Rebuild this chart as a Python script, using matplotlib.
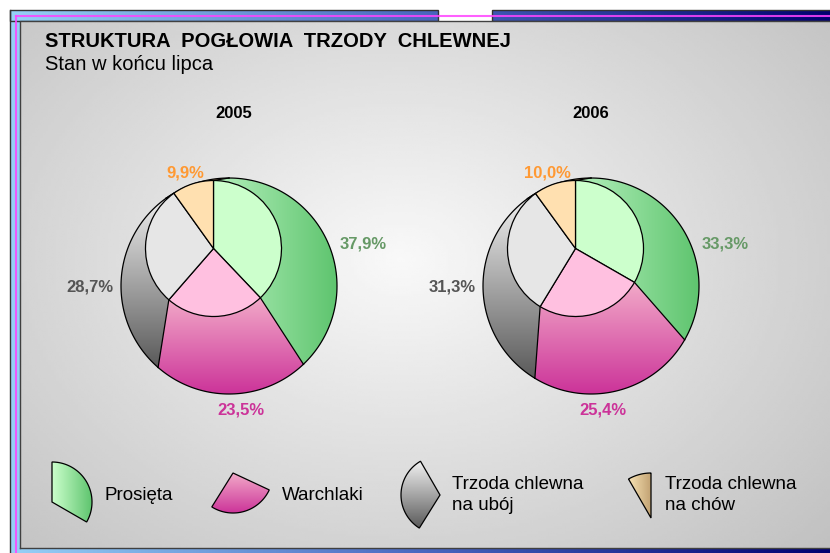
import numpy as np
import matplotlib.pyplot as plt
from matplotlib.patches import Polygon, Rectangle
from matplotlib.colors import LinearSegmentedColormap

plt.rcParams['font.family'] = ['Liberation Sans', 'DejaVu Sans']

W, H = 830, 553

# dane
years = ['2005', '2006']
categories = ['Prosięta', 'Warchlaki', 'Trzoda chlewna\nna ubój', 'Trzoda chlewna\nna chów']
shares_2005 = [37.9, 23.5, 28.7, 9.9]
shares_2006 = [33.3, 25.4, 31.3, 10.0]
labels_2005 = ['37,9%', '23,5%', '28,7%', '9,9%']
labels_2006 = ['33,3%', '25,4%', '31,3%', '10,0%']

inner_colors = ['#ccffcc', '#ffc0e0', '#e6e6e6', '#ffe0b0']
grad_colors = [('#b4f0bc', '#5ec46e', 'h'), ('#f2aac8', '#cc3399', 'v'),
               ('#f2f2f2', '#5a5a5a', 'v'), ('#f7e2b4', '#c0a070', 'h')]
label_colors = ['#669966', '#cc3399', '#555555', '#ff9933']

fig = plt.figure(figsize=(W / 100, H / 100), dpi=100)
fig.patch.set_facecolor('white')
ax = fig.add_axes([0, 0, 1, 1])


def grad_fill(verts, c0, c1, direction, z):
    verts = np.asarray(verts)
    poly = Polygon(verts, closed=True, facecolor='none', edgecolor='none')
    ax.add_patch(poly)
    cmap = LinearSegmentedColormap.from_list('g', [c0, c1])
    t = np.linspace(0, 1, 256)
    img = t[None, :] if direction == 'h' else t[:, None]
    x0, x1 = verts[:, 0].min(), verts[:, 0].max()
    y0, y1 = verts[:, 1].min(), verts[:, 1].max()
    im = ax.imshow(img, cmap=cmap, extent=(x0, x1, y0, y1), origin='upper',
                   aspect='auto', interpolation='bilinear', zorder=z)
    im.set_clip_path(poly)


def wedge_verts(cx, cy, rad, t1, t2, n=60):
    a = np.radians(np.linspace(t1, t2, n))
    arc = np.c_[cx + rad * np.cos(a), cy + rad * np.sin(a)]
    return np.vstack([[cx, cy], arc])


# ramka
cmap_b = LinearSegmentedColormap.from_list('b', ['#96d0f6', '#4a68c0', '#000070'])
ax.imshow(np.linspace(0, 1, 256)[None, :], cmap=cmap_b, extent=(10, W, 0, H - 10),
          origin='upper', aspect='auto', zorder=0)
ax.add_patch(Rectangle((438, H - 22), 54, 13, facecolor='white', edgecolor='none', zorder=0.5))
ax.add_patch(Rectangle((10, H - 21), 428, 11, facecolor='none', edgecolor='#333333', lw=1, zorder=0.6))
ax.add_patch(Rectangle((492, H - 21), 340, 11, facecolor='none', edgecolor='#333333', lw=1, zorder=0.6))
ax.plot([10, 10], [0, H - 10], color='#333333', lw=1, zorder=0.6)
ax.plot([15.5, W], [H - 15.5, H - 15.5], color='#ff44ff', lw=1.5, alpha=0.85, zorder=0.7)
ax.plot([15.5, 15.5], [0, H - 15.5], color='#ff44ff', lw=1.5, alpha=0.85, zorder=0.7)

# tlo panelu
gx, gy = np.meshgrid(np.linspace(20, W, 300), np.linspace(H - 21, 5, 200))
d = np.sqrt(((gx - 400) / 450) ** 2 + ((gy - (H - 260)) / 330) ** 2)
bg = np.clip(0.975 - 0.17 * d, 0, 1)
ax.imshow(bg, cmap='gray', vmin=0, vmax=1, extent=(20, W, 5, H - 21), origin='upper',
          aspect='auto', interpolation='bilinear', zorder=1)
ax.plot([20, 20, W], [5, H - 21, H - 21], color='#404040', lw=1, zorder=1.1)
ax.plot([20, W], [5, 5], color='#404040', lw=1, zorder=1.1)

# tytul
ax.text(45, H - 47, 'STRUKTURA  POGŁOWIA  TRZODY  CHLEWNEJ', fontsize=14.5, fontweight='bold',
        va='baseline', ha='left', zorder=5)
ax.text(45, H - 70, 'Stan w końcu lipca', fontsize=14.5, va='baseline', ha='left', zorder=5)

# wykresy kolowe
R, r = 108, 68
off = (-15.5, 37.5)
lab_off = [(134, 42), (12, -124), (-139, -1), (-44, 113)]


def draw_pie(cx, cy, shares, texts, year):
    icx, icy = cx + off[0], cy + off[1]
    bounds = np.concatenate([[0], np.cumsum(shares)]) / sum(shares) * 360
    for k in range(len(shares)):
        phi = np.radians(90 - np.linspace(bounds[k], bounds[k + 1], 80))
        outer = np.c_[cx + R * np.cos(phi), cy + R * np.sin(phi)]
        inner = np.c_[icx + r * np.cos(phi[::-1]), icy + r * np.sin(phi[::-1])]
        c0, c1, dr = grad_colors[k]
        grad_fill(np.vstack([outer, inner]), c0, c1, dr, 2)
        ax.plot(outer[:, 0], outer[:, 1], color='black', lw=0.9, zorder=3)
        ax.plot([inner[-1, 0], outer[0, 0]], [inner[-1, 1], outer[0, 1]], color='black', lw=0.9, zorder=3)
        ax.text(cx + lab_off[k][0], cy + lab_off[k][1], texts[k], color=label_colors[k],
                fontsize=12, fontweight='bold', ha='center', va='center', zorder=5)
    ax.pie(shares, colors=inner_colors, startangle=90, counterclock=False, radius=r,
           center=(icx, icy), wedgeprops=dict(edgecolor='black', linewidth=0.9, zorder=4))
    ax.text(cx + 5 if year == '2005' else cx, H - 113, year, fontsize=12, fontweight='bold',
            ha='center', va='center', zorder=5)


draw_pie(229, H - 286, shares_2005, labels_2005, years[0])
draw_pie(591, H - 286, shares_2006, labels_2006, years[1])

# legenda
icons = [(52, H - 502, 40, -30, 90), (233, H - 473, 40, -122, -25),
         (440, H - 495, 39, 120, 238), (651, H - 518, 45, 90, 120)]
text_x = [104, 282, 452, 665]
for k, (cx, cy, rad, t1, t2) in enumerate(icons):
    v = wedge_verts(cx, cy, rad, t1, t2)
    c0, c1, dr = grad_colors[k]
    if k == 0:
        c0 = '#ccffcc'
    grad_fill(v, c0, c1, dr, 2)
    ax.add_patch(Polygon(v, closed=True, facecolor='none', edgecolor='black', lw=0.9, zorder=3))
    ax.text(text_x[k], H - 495, categories[k], fontsize=13.5, ha='left', va='center',
            linespacing=1.32, zorder=5)

ax.set_xlim(0, W)
ax.set_ylim(0, H)
ax.set_aspect('auto')
ax.axis('off')
fig.savefig('out.png', dpi=100)
